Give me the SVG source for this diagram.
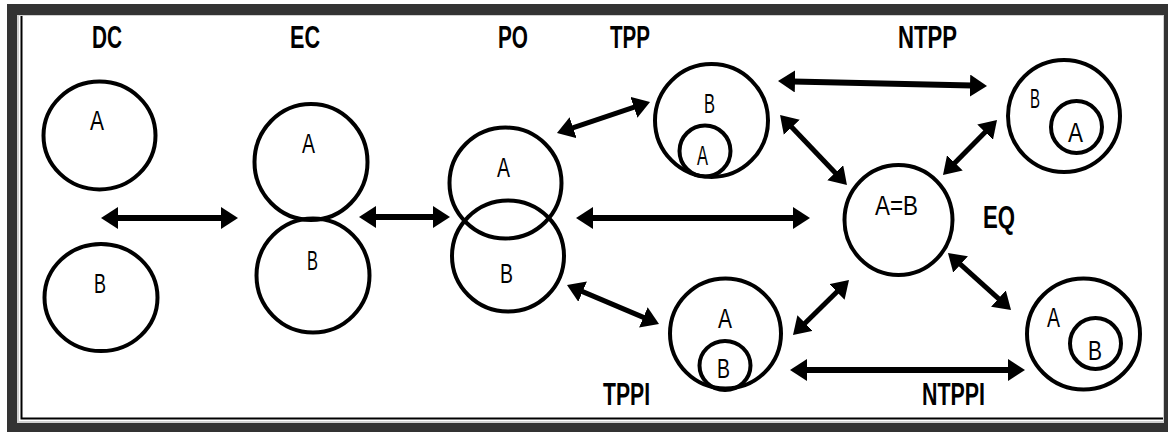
<svg xmlns="http://www.w3.org/2000/svg" width="1168" height="432" viewBox="0 0 1168 432">
<style>
.c{fill:none;stroke:#000;stroke-width:4}
.a{fill:none;stroke:#000;stroke-width:6;marker-start:url(#ah);marker-end:url(#ah)}
.d{stroke-width:5}
.t{font-family:"Liberation Sans Narrow","Liberation Sans",sans-serif;font-weight:bold;font-size:32px;fill:#000}
.s{font-family:"Liberation Sans Narrow","Liberation Sans",sans-serif;font-size:28px;fill:#000}
</style>
<defs>
<marker id="ah" viewBox="0 -11 17 22" refX="2" refY="0" markerWidth="17" markerHeight="22" markerUnits="userSpaceOnUse" orient="auto-start-reverse">
<path d="M0,-11 L17,0 L0,11 z" fill="#000"/>
</marker>
</defs>
<rect x="7" y="4" width="1161" height="428" fill="#333"/>
<rect x="17" y="15" width="1147" height="408" fill="#d0d0d0"/>
<rect x="19" y="16" width="1144" height="405" fill="#fff"/>
<path d="M21.5,16 V418.5 H1163" stroke="#000" stroke-width="2" fill="none"/>

<g id="connectors">
<path class="a" d="M116,218 H223"/>
<path class="a" d="M374,217 H435"/>
<path class="a" d="M591,218 H795"/>
<path class="a d" d="M571.2,128.3 L635.8,106.7"/>
<path class="a d" d="M580.8,290.9 L645.2,318.1"/>
<path class="a" d="M793,81.4 L972,85.6"/>
<path class="a d" d="M790.4,125.8 L836.6,174.2"/>
<path class="a d" d="M953.5,164.3 L986.5,130.7"/>
<path class="a d" d="M803.7,324.5 L838.3,290.5"/>
<path class="a d" d="M959.1,263.1 L999.9,299.9"/>
<path class="a" d="M805,370 H1010"/>
</g>

<g id="DC">
<text class="t" x="92" y="48" textLength="30" lengthAdjust="spacingAndGlyphs">DC</text>
<ellipse class="c" cx="99.5" cy="135.5" rx="56" ry="54"/>
<text class="s" x="90" y="130" textLength="14" lengthAdjust="spacingAndGlyphs">A</text>
<ellipse class="c" cx="101" cy="297.5" rx="56.5" ry="53.5"/>
<text class="s" x="94" y="293" textLength="12" lengthAdjust="spacingAndGlyphs">B</text>
</g>

<g id="EC">
<text class="t" x="290" y="48" textLength="30" lengthAdjust="spacingAndGlyphs">EC</text>
<ellipse class="c" cx="311" cy="162" rx="56.5" ry="58"/>
<text class="s" x="302" y="153" textLength="13" lengthAdjust="spacingAndGlyphs">A</text>
<ellipse class="c" cx="313" cy="275.5" rx="56.5" ry="57"/>
<text class="s" x="307" y="270" textLength="11" lengthAdjust="spacingAndGlyphs">B</text>
</g>

<g id="PO">
<text class="t" x="498" y="48" textLength="30" lengthAdjust="spacingAndGlyphs">PO</text>
<ellipse class="c" cx="505.5" cy="183" rx="56" ry="55.5"/>
<text class="s" x="497" y="177" textLength="13" lengthAdjust="spacingAndGlyphs">A</text>
<ellipse class="c" cx="508" cy="256" rx="56" ry="55.5"/>
<text class="s" x="500" y="283" textLength="13" lengthAdjust="spacingAndGlyphs">B</text>
</g>

<g id="TPP">
<text class="t" x="610" y="48" textLength="40" lengthAdjust="spacingAndGlyphs">TPP</text>
<ellipse class="c" cx="711.5" cy="120.5" rx="56.5" ry="56.5"/>
<text class="s" x="704" y="113" textLength="11" lengthAdjust="spacingAndGlyphs">B</text>
<ellipse class="c" cx="705" cy="151" rx="25.5" ry="25.5"/>
<text class="s" x="697" y="165" textLength="11" lengthAdjust="spacingAndGlyphs">A</text>
</g>

<g id="TPPI">
<text class="t" x="603" y="405" textLength="47" lengthAdjust="spacingAndGlyphs">TPPI</text>
<ellipse class="c" cx="725.5" cy="333.5" rx="55.5" ry="55"/>
<text class="s" x="718" y="328" textLength="14" lengthAdjust="spacingAndGlyphs">A</text>
<ellipse class="c" cx="725" cy="365.5" rx="25.5" ry="24.5"/>
<text class="s" x="717" y="378" textLength="13" lengthAdjust="spacingAndGlyphs">B</text>
</g>

<g id="EQ">
<text class="t" x="983" y="228" textLength="32" lengthAdjust="spacingAndGlyphs">EQ</text>
<ellipse class="c" cx="898.5" cy="220" rx="54" ry="55"/>
<text class="s" x="875" y="215" textLength="43" lengthAdjust="spacingAndGlyphs">A=B</text>
</g>

<g id="NTPP">
<text class="t" x="898" y="48" textLength="59" lengthAdjust="spacingAndGlyphs">NTPP</text>
<ellipse class="c" cx="1064" cy="116" rx="56" ry="56"/>
<text class="s" x="1030" y="108" textLength="10" lengthAdjust="spacingAndGlyphs">B</text>
<ellipse class="c" cx="1076.5" cy="127" rx="25.5" ry="26"/>
<text class="s" x="1068" y="142" textLength="15" lengthAdjust="spacingAndGlyphs">A</text>
</g>

<g id="NTPPI">
<text class="t" x="922" y="405" textLength="63" lengthAdjust="spacingAndGlyphs">NTPPI</text>
<ellipse class="c" cx="1083.5" cy="334" rx="56.5" ry="55.5"/>
<text class="s" x="1047" y="327" textLength="13" lengthAdjust="spacingAndGlyphs">A</text>
<ellipse class="c" cx="1095.5" cy="343.5" rx="25.5" ry="25.5"/>
<text class="s" x="1088" y="360" textLength="14" lengthAdjust="spacingAndGlyphs">B</text>
</g>
</svg>
